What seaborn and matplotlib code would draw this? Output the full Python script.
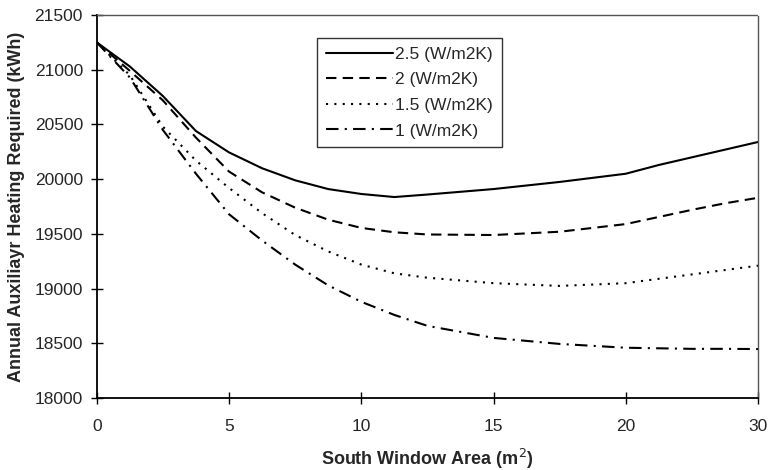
import numpy as np
import pandas as pd
import matplotlib
matplotlib.use("Agg")
import matplotlib.pyplot as plt
import seaborn as sns

# window area (m2) at which the curves were read
area = [0, 1.25, 2.5, 3.75, 5, 6.25, 7.5, 8.75, 10, 11.25, 12.5, 15, 17.5, 20,
        22.5, 25, 27.5, 30]

heat_25 = [21250, 21030, 20760, 20440, 20245, 20100, 19990, 19910, 19865, 19837,
           19860, 19910, 19975, 20050, 20130, 20200, 20270, 20340]
heat_20 = [21250, 20990, 20720, 20380, 20070, 19880, 19740, 19630, 19555, 19515,
           19495, 19490, 19520, 19590, 19655, 19720, 19780, 19830]
heat_15 = [21250, 20950, 20480, 20170, 19920, 19690, 19490, 19340, 19220, 19140,
           19100, 19050, 19025, 19050, 19090, 19130, 19170, 19210]
heat_10 = [21250, 20930, 20450, 20050, 19680, 19440, 19220, 19030, 18880, 18760,
           18660, 18550, 18495, 18460, 18455, 18450, 18450, 18448]

series_labels = ["2.5 (W/m2K)", "2 (W/m2K)", "1.5 (W/m2K)", "1 (W/m2K)"]
x_ticks = [0, 5, 10, 15, 20, 30]
y_ticks = [18000, 18500, 19000, 19500, 20000, 20500, 21000, 21500]

df = pd.concat([
    pd.DataFrame({"area": area, "heat": h, "u": lab})
    for h, lab in zip([heat_25, heat_20, heat_15, heat_10], series_labels)
])

sns.set_style("ticks")
plt.rcParams["font.family"] = ["Liberation Sans", "DejaVu Sans"]

fig, ax = plt.subplots(figsize=(7.68, 4.70), dpi=100)
fig.subplots_adjust(left=0.126, right=0.987, top=0.968, bottom=0.153)

# category-style axis: ticks equally spaced even though 20 -> 30 is a bigger step
pos = np.arange(len(x_ticks))
ax.set_xscale("function", functions=(
    lambda v: np.interp(v, x_ticks, pos),
    lambda p: np.interp(p, pos, x_ticks),
))

dashes = {
    series_labels[0]: "",
    series_labels[1]: (5, 3),
    series_labels[2]: (1, 3),
    series_labels[3]: (6, 3, 1, 3),
}
sns.lineplot(data=df, x="area", y="heat", hue="u", style="u",
             hue_order=series_labels, style_order=series_labels,
             palette=["black"] * 4, dashes=dashes, linewidth=1.5,
             legend=False, ax=ax)

ax.set_xlim(0, 30)
ax.set_ylim(18000, 21500)
ax.set_xticks(x_ticks)
ax.set_xticklabels([str(t) for t in x_ticks])
ax.minorticks_off()
ax.set_yticks(y_ticks)
ax.tick_params(axis="both", which="major", direction="inout", length=8, width=1,
               labelsize=12.5, color="black")
ax.tick_params(axis="y", pad=6)
ax.tick_params(axis="x", pad=11)

for side in ["left", "bottom"]:
    ax.spines[side].set_color("black")
    ax.spines[side].set_linewidth(1.3)
for side in ["top", "right"]:
    ax.spines[side].set_visible(True)
    ax.spines[side].set_color("#555555")
    ax.spines[side].set_linewidth(1)
    ax.spines[side].set_linestyle((0, (1, 1)))

ax.set_xlabel("South Window Area (m$^2$)", fontsize=13, fontweight="bold", labelpad=9)
ax.set_ylabel("Annual Auxiliayr Heating Required (kWh)", fontsize=13,
              fontweight="bold", labelpad=7)

leg = ax.legend(handles=ax.get_lines()[:4], labels=series_labels,
                loc="upper left", bbox_to_anchor=(0.333, 0.94),
                handlelength=3.9, handletextpad=0.1, labelspacing=0.6,
                fontsize=12.5, frameon=True, fancybox=False, borderpad=0.5,
                borderaxespad=0)
leg.get_frame().set_edgecolor("black")
leg.get_frame().set_linewidth(1)

plt.savefig("out.png", dpi=100)
plt.close()
